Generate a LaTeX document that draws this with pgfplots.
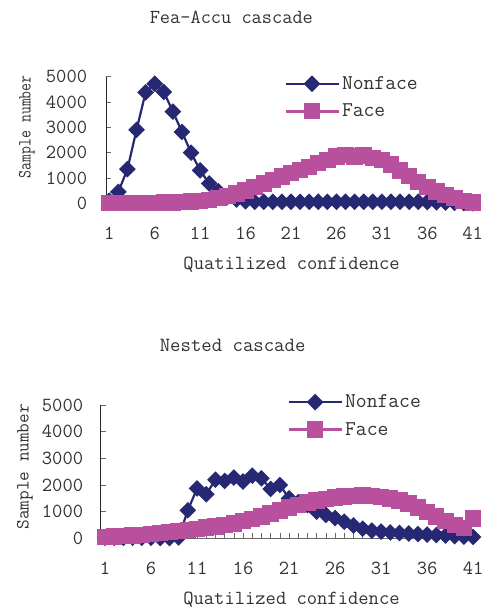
\documentclass[border=0pt]{standalone}
\usepackage{fontspec}
\usepackage{graphicx}
\usepackage{pgfplots}
\pgfplotsset{compat=1.18}
\definecolor{navy}{RGB}{38,40,115}
\definecolor{pinkc}{RGB}{185,80,158}
\newcommand\tf[1]{\ttfamily\fontsize{#1}{#1}\selectfont}
\pgfplotsset{
 mystyle/.style={
  scale only axis, clip=false,
  axis lines*=left,
  ymin=0, ymax=5000,
  ytick={0,1000,...,5000},
  xtick={1,6,...,41},
  minor xtick={1,...,41},
  tick align=inside,
  major tick length=5pt, minor tick length=5pt,
  every tick/.style={black!60, line width=0.6pt},
  x axis line style={black!60, line width=0.8pt},
  y axis line style={black!85, line width=0.8pt},
  /pgf/number format/assume math mode=true,
  /pgf/number format/1000 sep={},
  scaled y ticks=false,
  tick label style={font=\tf{20}, text=black!80},
  xticklabel style={anchor=center, yshift=-30pt},
  legend cell align=left,
  legend image code/.code={\draw[mark repeat=2,mark phase=2,##1] plot coordinates {(0pt,0pt)(26.5pt,0pt)(53pt,0pt)};},
 },
 nf/.style={navy, line width=2.2pt, mark=square*, mark size=4.8pt, mark options={rotate=45, solid}},
 fc/.style={pinkc, line width=3pt, mark=square*, mark size=6.7pt, mark options={solid}},
}
\begin{document}
\begin{tikzpicture}
\useasboundingbox (0,0) rectangle (489pt,609pt);
% ---------- top chart ----------
\begin{axis}[mystyle,
  at={(106pt,405.7pt)}, anchor=south west,
  width=372pt, height=126.6pt,
  xmin=0.64, xmax=41.58,
  yticklabel style={anchor=east, inner sep=0pt, xshift=-18.7pt},
  title={Fea-Accu cascade},
  title style={at={(axis description cs:0.337,1.421)}, anchor=center, font=\tf{19.8}, text=black!80},
  xlabel={Quatilized confidence},
  xlabel style={at={(axis description cs:0.499,-0.487)}, anchor=center, font=\tf{20}, text=black!80},
  ylabel={\scalebox{0.82}[1]{Sample number}},
  ylabel style={at={(axis description cs:-0.213,0.605)}, anchor=center, font=\tf{18.7}, text=black!80},
  legend style={at={(axis description cs:0.478,1.019)}, anchor=north west, draw=none, fill=none,
    inner sep=0pt, font=\tf{21}, text=black!80, row sep=9pt},
]
\addplot[nf] coordinates {
(1,100)(2,450)(3,1350)(4,2900)(5,4380)(6,4720)(7,4400)(8,3620)(9,2820)(10,2000)
(11,1300)(12,780)(13,470)(14,250)(15,150)(16,80)(17,60)(18,60)(19,60)(20,60)
(21,60)(22,60)(23,60)(24,60)(25,60)(26,60)(27,60)(28,60)(29,60)(30,60)
(31,60)(32,60)(33,60)(34,60)(35,60)(36,50)(37,40)(38,30)(39,20)(40,10)(41,0)};
\addlegendentry{Nonface}
\addplot[fc] coordinates {
(1,20)(2,20)(3,20)(4,20)(5,20)(6,20)(7,25)(8,30)(9,50)(10,70)
(11,100)(12,140)(13,200)(14,280)(15,380)(16,500)(17,650)(18,780)(19,920)(20,1060)
(21,1200)(22,1320)(23,1440)(24,1580)(25,1720)(26,1850)(27,1900)(28,1850)(29,1880)(30,1800)
(31,1720)(32,1530)(33,1300)(34,1080)(35,850)(36,650)(37,470)(38,320)(39,200)(40,80)(41,30)};
\addlegendentry{Face}
\end{axis}
% ---------- bottom chart ----------
\begin{axis}[mystyle,
  at={(100.7pt,70.7pt)}, anchor=south west,
  width=377pt, height=133.3pt,
  xmin=0.53, xmax=41.5,
  yticklabel style={anchor=east, inner sep=0pt, xshift=-17.4pt},
  title={Nested cascade},
  title style={at={(axis description cs:0.35,1.399)}, anchor=center, font=\tf{20.2}, text=black!80},
  xlabel={Quatilized confidence},
  xlabel style={at={(axis description cs:0.506,-0.463)}, anchor=center, font=\tf{20}, text=black!80},
  ylabel={Sample number},
  ylabel style={at={(axis description cs:-0.201,0.537)}, anchor=center, font=\tf{18.7}, text=black!80},
  legend style={at={(axis description cs:0.494,1.092)}, anchor=north west, draw=none, fill=none,
    inner sep=0pt, font=\tf{21}, text=black!80, row sep=9pt},
]
\addplot[nf] coordinates {
(1,20)(2,20)(3,20)(4,20)(5,20)(6,20)(7,10)(8,10)(9,30)(10,1050)
(11,1870)(12,1650)(13,2200)(14,2150)(15,2280)(16,2130)(17,2350)(18,2250)(19,1850)(20,2000)
(21,1500)(22,1350)(23,1250)(24,1000)(25,880)(26,760)(27,620)(28,480)(29,360)(30,290)
(31,250)(32,220)(33,200)(34,180)(35,160)(36,140)(37,120)(38,100)(39,80)(40,60)(41,50)};
\addlegendentry{Nonface}
\addplot[fc] coordinates {
(1,50)(2,60)(3,80)(4,100)(5,130)(6,160)(7,200)(8,240)(9,280)(10,320)
(11,360)(12,400)(13,440)(14,490)(15,560)(16,640)(17,720)(18,820)(19,930)(20,1040)
(21,1150)(22,1250)(23,1340)(24,1420)(25,1480)(26,1530)(27,1570)(28,1590)(29,1600)(30,1590)
(31,1560)(32,1500)(33,1420)(34,1300)(35,1150)(36,980)(37,820)(38,650)(39,500)(40,380)(41,750)};
\addlegendentry{Face}
\end{axis}
\end{tikzpicture}
\end{document}
